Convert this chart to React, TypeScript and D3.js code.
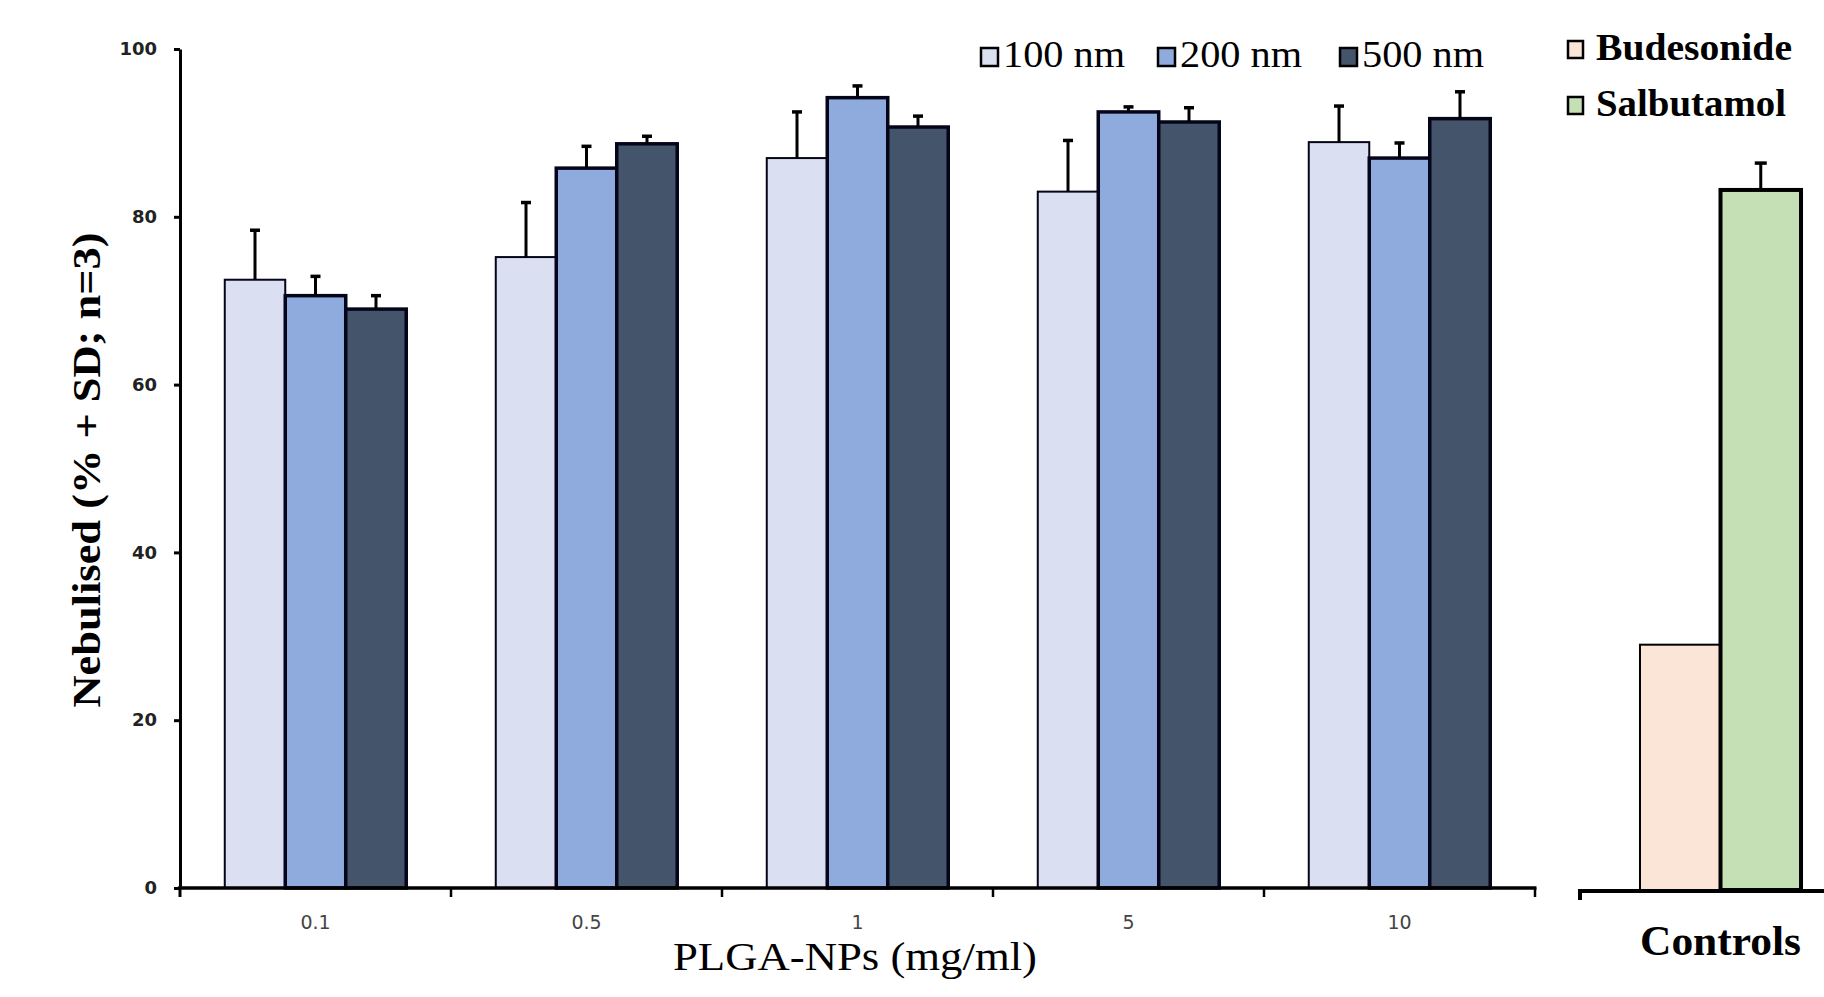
import React, { useEffect, useRef } from 'react';
import * as d3 from 'd3';

// concentrations on the x axis
const categories = ['0.1', '0.5', '1', '5', '10'];
// particle sizes (series)
const sizes = ['100 nm', '200 nm', '500 nm'];
const mean100 = [72.5, 75.2, 87.0, 83.0, 88.9];
const sd100 = [5.9, 6.5, 5.5, 6.1, 4.3];
const mean200 = [70.6, 85.8, 94.2, 92.5, 87.0];
const sd200 = [2.3, 2.6, 1.4, 0.6, 1.8];
const mean500 = [69.0, 88.7, 90.7, 91.3, 91.7];
const sd500 = [1.6, 0.9, 1.3, 1.7, 3.2];
// controls panel
const controls = ['Budesonide', 'Salbutamol'];
const controlMeans = [29.0, 83.2];
const controlSd = [0, 3.2];
const yTicks = [0, 20, 40, 60, 80, 100];

const sizeColors = ['#dae0f2', '#8faadc', '#44546a'];
const sizeStroke = [2, 3.5, 3.5];
const controlColors = ['#fbe5d6', '#c5e0b4'];
const controlStroke = [2, 4];

const serif = "'Liberation Serif', 'Times New Roman', serif";
const sans = "'DejaVu Sans', Verdana, sans-serif";

export default function App() {
  const ref = useRef<SVGSVGElement>(null);

  useEffect(() => {
    const svg = d3.select(ref.current);
    svg.selectAll('*').remove();

    // scales
    const y = d3.scaleLinear().domain([0, 100]).range([888, 49]);
    const x0 = d3.scaleBand().domain(categories).range([180, 1535]);
    const x1 = d3.scaleBand().domain(sizes).range([0, x0.bandwidth()]).paddingOuter(0.74);
    const xc = d3.scaleBand().domain(['Controls']).range([1580, 1861]);
    const xc1 = d3.scaleBand().domain(controls).range([0, xc.bandwidth()]).paddingOuter(0.745);

    const means = [mean100, mean200, mean500];
    const sds = [sd100, sd200, sd500];
    const rows = categories.map((c, i) => ({
      cat: c,
      values: sizes.map((s, k) => ({ key: s, k, mean: means[k][i], sd: sds[k][i] })),
    }));

    // bar groups
    const groups = svg.selectAll('.group')
      .data(rows)
      .enter().append('g')
      .attr('class', 'group')
      .attr('transform', d => 'translate(' + x0(d.cat) + ',0)');

    const bar = groups.selectAll('.bar')
      .data(d => d.values)
      .enter().append('g')
      .attr('class', 'bar');

    bar.append('rect')
      .attr('x', d => x1(d.key))
      .attr('y', d => y(d.mean))
      .attr('width', x1.bandwidth())
      .attr('height', d => y(0) - y(d.mean))
      .attr('fill', d => sizeColors[d.k])
      .attr('stroke', '#05051a')
      .attr('stroke-width', d => sizeStroke[d.k]);

    // error bars (+SD only)
    bar.append('line')
      .attr('x1', d => x1(d.key) + x1.bandwidth() / 2)
      .attr('x2', d => x1(d.key) + x1.bandwidth() / 2)
      .attr('y1', d => y(d.mean))
      .attr('y2', d => y(d.mean + d.sd))
      .attr('stroke', '#000')
      .attr('stroke-width', 3);
    bar.append('line')
      .attr('x1', d => x1(d.key) + x1.bandwidth() / 2 - 5)
      .attr('x2', d => x1(d.key) + x1.bandwidth() / 2 + 5)
      .attr('y1', d => y(d.mean + d.sd))
      .attr('y2', d => y(d.mean + d.sd))
      .attr('stroke', '#000')
      .attr('stroke-width', 3.5);

    // y axis
    const yAxis = svg.append('g')
      .attr('transform', 'translate(180,0)')
      .call(d3.axisLeft(y).tickValues(yTicks).tickSize(6).tickSizeOuter(0).tickPadding(17));
    yAxis.select('.domain').attr('stroke-width', 3);
    yAxis.selectAll('.tick line').attr('stroke-width', 3);
    yAxis.selectAll('.tick text')
      .attr('font-family', sans)
      .attr('font-size', 18)
      .attr('font-weight', 'bold')
      .attr('fill', '#222');
    svg.append('line')
      .attr('x1', 180).attr('x2', 180)
      .attr('y1', y(0)).attr('y2', y(0) + 9)
      .attr('stroke', '#000').attr('stroke-width', 3);

    // x axis
    svg.append('line')
      .attr('x1', 178).attr('x2', x0.range()[1] + 1.5)
      .attr('y1', y(0)).attr('y2', y(0))
      .attr('stroke', '#000').attr('stroke-width', 3.5);
    svg.selectAll('.xtick')
      .data(categories)
      .enter().append('line')
      .attr('class', 'xtick')
      .attr('x1', d => x0(d) + x0.bandwidth())
      .attr('x2', d => x0(d) + x0.bandwidth())
      .attr('y1', y(0)).attr('y2', y(0) + 9)
      .attr('stroke', '#000').attr('stroke-width', 2.5);
    svg.selectAll('.xlabel')
      .data(categories)
      .enter().append('text')
      .attr('class', 'xlabel')
      .attr('x', d => x0(d) + x0.bandwidth() / 2)
      .attr('y', 929)
      .attr('text-anchor', 'middle')
      .attr('font-family', sans)
      .attr('font-size', 19)
      .attr('fill', '#444')
      .text(d => d);

    // axis titles
    svg.append('text')
      .attr('transform', 'translate(100,470) rotate(-90)')
      .attr('text-anchor', 'middle')
      .attr('font-family', serif)
      .attr('font-size', 41)
      .attr('font-weight', 'bold')
      .attr('textLength', 475)
      .attr('lengthAdjust', 'spacingAndGlyphs')
      .text('Nebulised (% + SD; n=3)');
    svg.append('text')
      .attr('x', 855).attr('y', 970)
      .attr('text-anchor', 'middle')
      .attr('font-family', serif)
      .attr('font-size', 40)
      .attr('textLength', 364)
      .attr('lengthAdjust', 'spacingAndGlyphs')
      .text('PLGA-NPs (mg/ml)');

    // controls panel
    const ctrl = svg.append('g').attr('transform', 'translate(' + xc('Controls') + ',0)');
    const cdata = controls.map((c, k) => ({ key: c, k, mean: controlMeans[k], sd: controlSd[k] }));
    ctrl.selectAll('rect')
      .data(cdata)
      .enter().append('rect')
      .attr('x', d => xc1(d.key))
      .attr('y', d => y(d.mean))
      .attr('width', xc1.bandwidth())
      .attr('height', d => y(0) + 2 - y(d.mean))
      .attr('fill', d => controlColors[d.k])
      .attr('stroke', '#000')
      .attr('stroke-width', d => controlStroke[d.k]);
    const cerr = cdata.filter(d => d.sd > 0);
    ctrl.selectAll('.stem')
      .data(cerr)
      .enter().append('line')
      .attr('class', 'stem')
      .attr('x1', d => xc1(d.key) + xc1.bandwidth() / 2)
      .attr('x2', d => xc1(d.key) + xc1.bandwidth() / 2)
      .attr('y1', d => y(d.mean))
      .attr('y2', d => y(d.mean + d.sd))
      .attr('stroke', '#000').attr('stroke-width', 3);
    ctrl.selectAll('.cap')
      .data(cerr)
      .enter().append('line')
      .attr('class', 'cap')
      .attr('x1', d => xc1(d.key) + xc1.bandwidth() / 2 - 6)
      .attr('x2', d => xc1(d.key) + xc1.bandwidth() / 2 + 6)
      .attr('y1', d => y(d.mean + d.sd))
      .attr('y2', d => y(d.mean + d.sd))
      .attr('stroke', '#000').attr('stroke-width', 3.5);
    svg.append('path')
      .attr('d', 'M' + xc.range()[0] + ',' + (y(0) + 12) + 'V' + (y(0) + 3) + 'H1824')
      .attr('fill', 'none')
      .attr('stroke', '#000').attr('stroke-width', 4);
    svg.append('text')
      .attr('x', xc('Controls') + xc.bandwidth() / 2)
      .attr('y', 955)
      .attr('text-anchor', 'middle')
      .attr('font-family', serif)
      .attr('font-size', 42)
      .attr('font-weight', 'bold')
      .attr('textLength', 161)
      .attr('lengthAdjust', 'spacingAndGlyphs')
      .text('Controls');

    // legend for particle sizes
    const legendX = [981, 1158, 1340];
    const legend = svg.selectAll('.legend-size')
      .data(sizes)
      .enter().append('g')
      .attr('class', 'legend-size')
      .attr('transform', (d, i) => 'translate(' + legendX[i] + ',48)');
    legend.append('rect')
      .attr('width', 17).attr('height', 18)
      .attr('fill', (d, i) => sizeColors[i])
      .attr('stroke', '#000').attr('stroke-width', 2.5);
    legend.append('text')
      .attr('x', 22).attr('y', 18.5)
      .attr('font-family', serif)
      .attr('font-size', 38)
      .attr('textLength', 122)
      .attr('lengthAdjust', 'spacingAndGlyphs')
      .text(d => d);

    // legend for controls
    const clegend = svg.selectAll('.legend-ctrl')
      .data(controls)
      .enter().append('g')
      .attr('class', 'legend-ctrl')
      .attr('transform', (d, i) => 'translate(1568,' + (41 + i * 56) + ')');
    clegend.append('rect')
      .attr('width', 15).attr('height', 17)
      .attr('fill', (d, i) => controlColors[i])
      .attr('stroke', '#000').attr('stroke-width', 2.5);
    clegend.append('text')
      .attr('x', 28).attr('y', 19)
      .attr('font-family', serif)
      .attr('font-size', 38)
      .attr('font-weight', 'bold')
      .attr('textLength', (d, i) => [196, 190][i])
      .attr('lengthAdjust', 'spacingAndGlyphs')
      .text(d => d);
  }, []);

  return (
    <svg
      ref={ref}
      width={1824}
      height={997}
      style={{ position: 'absolute', left: 0, top: 0, background: '#fff' }}
    />
  );
}
